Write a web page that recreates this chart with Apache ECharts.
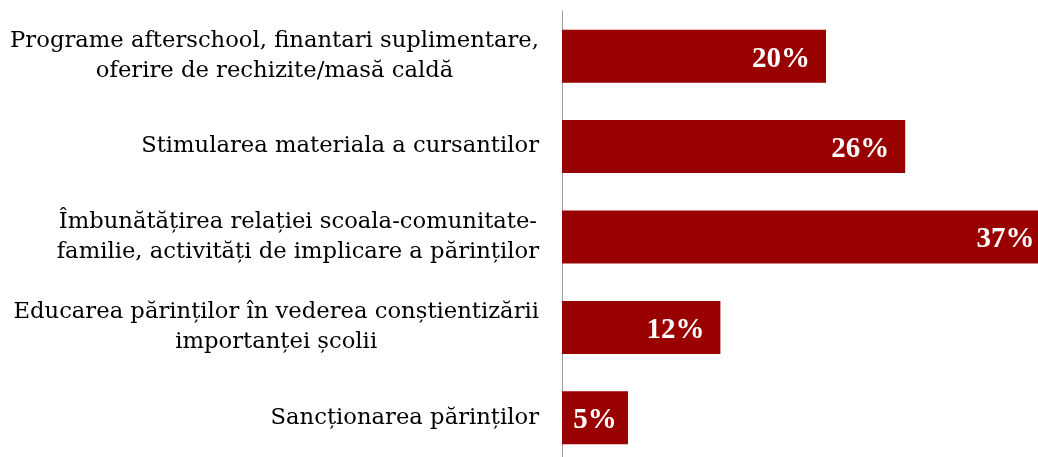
<!DOCTYPE html>
<html>
<head>
<meta charset="utf-8">
<script src="https://cdn.jsdelivr.net/npm/echarts@6/dist/echarts.min.js"></script>
<style>
  html, body { margin: 0; padding: 0; background: #fff; }
  #main { width: 1038px; height: 457px; }
</style>
</head>
<body>
<div id="main"></div>
<script>
// categorii (de sus in jos)
var categories = [
    'Programe afterschool, finantari suplimentare,\noferire de rechizite/masă caldă',
    'Stimularea materiala a cursantilor',
    'Îmbunătățirea relației scoala-comunitate-\nfamilie, activități de implicare a părinților',
    'Educarea părinților în vederea conștientizării\nimportanței școlii',
    'Sancționarea părinților'
];
// procente
var values = [20, 26, 37, 12, 5];

var myChart = echarts.init(document.getElementById('main'));

// barele scurte au eticheta centrata
var seriesData = values.map(function (v) {
    if (v < 8) {
        return { value: v, label: { position: 'inside' } };
    }
    return v;
});

var option = {
    animation: false,
    grid: {
        left: 562,
        top: 11,
        width: 528,
        height: 452,
        outerBoundsMode: 'none'
    },
    xAxis: {
        type: 'value',
        min: 0,
        max: 40,
        show: false,
        splitLine: { show: false }
    },
    yAxis: {
        type: 'category',
        inverse: true,
        data: categories,
        axisTick: { show: false },
        axisLine: {
            lineStyle: { color: '#a0a0a0', width: 1 }
        },
        axisLabel: {
            margin: 23,
            formatter: function (val) {
                // fiecare rand centrat in blocul aliniat la dreapta
                return val.split('\n').map(function (l) {
                    return '{c|' + l + '}';
                }).join('\n');
            },
            rich: {
                c: {
                    align: 'center',
                    fontFamily: '"DejaVu Serif", serif',
                    fontSize: 22.7,
                    lineHeight: 30,
                    color: '#000'
                }
            }
        }
    },
    series: [{
        type: 'bar',
        data: seriesData,
        barWidth: 53,
        clip: false,
        itemStyle: { color: '#990000' },
        label: {
            show: true,
            position: 'insideRight',
            distance: 16,
            formatter: '{c}%',
            color: '#fff',
            fontFamily: '"Liberation Serif", serif',
            fontWeight: 'bold',
            fontSize: 29,
            offset: [0, 3]
        }
    }]
};

myChart.setOption(option);
</script>
</body>
</html>
